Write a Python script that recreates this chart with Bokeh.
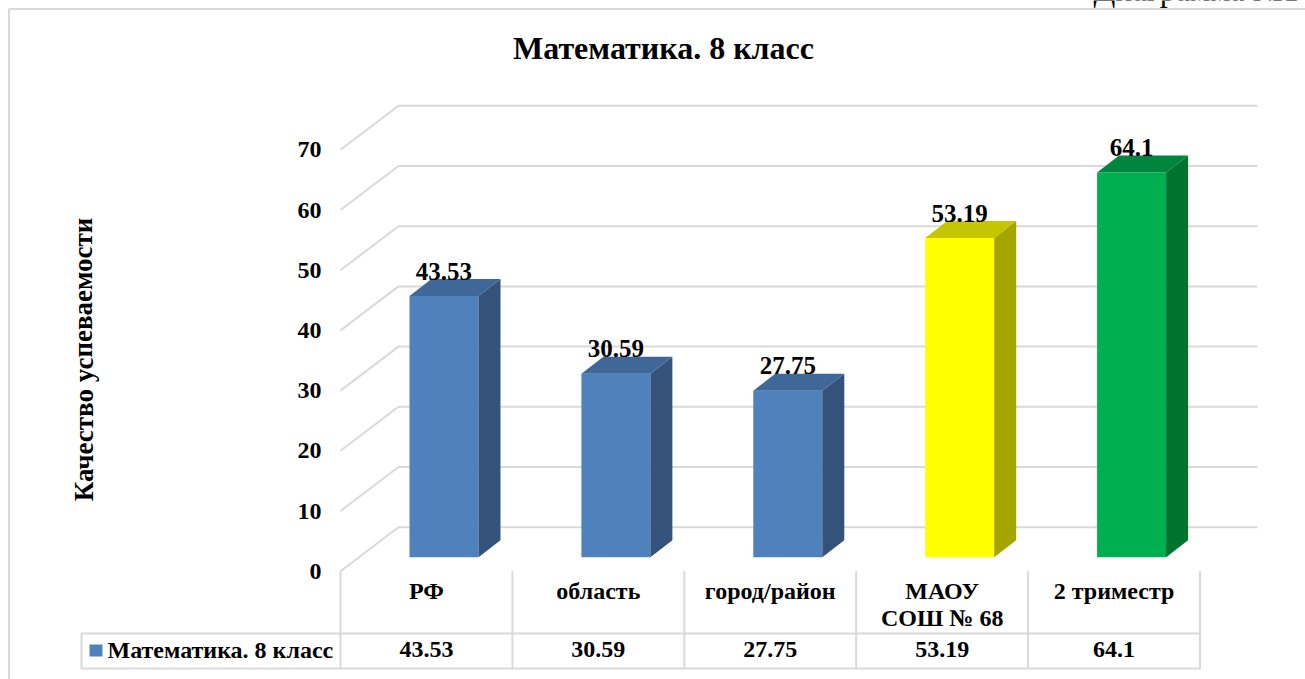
from bokeh.plotting import figure
from bokeh.embed import file_html
from bokeh.resources import INLINE
from bokeh.core.properties import value

categories = ["РФ", "область", "город/район", "МАОУ\nСОШ № 68", "2 триместр"]
series_name = "Математика. 8 класс"
values = [43.53, 30.59, 27.75, 53.19, 64.1]
value_labels = ["43.53", "30.59", "27.75", "53.19", "64.1"]
ticks = [0, 10, 20, 30, 40, 50, 60, 70]
title = "Математика. 8 класс"
y_title = "Качество успеваемости"
caption = "Диаграмма №14"
front = ["#4F81BD", "#4F81BD", "#4F81BD", "#FFFF00", "#00B050"]
top_c = ["#3F6797", "#3F6797", "#3F6797", "#C6C600", "#00853C"]
side_c = ["#34527A", "#34527A", "#34527A", "#A5A500", "#00732F"]

W, H = 1305, 679
PX = 171.9          # pixels per category
PY = 6.0            # pixels per value unit
X0, Y0 = 340, 556.7 # pixel of category 0 edge / value 0 on bars' front plane
GRID = "#D9D9D9"
FONT = value("Liberation Serif")
WALL = 1.0033       # wall gridline spacing relative to the bars' value scale
BAR_C = 0.602       # bar centre inside its category (the 3D depth pushes bars right)

p = figure(width=W, height=H, output_backend="svg", toolbar_location=None,
           x_range=(-X0 / PX, (W - X0) / PX), y_range=((Y0 - H) / PY, Y0 / PY),
           min_border=0, outline_line_color=None, background_fill_color="white",
           x_axis_type="linear", y_axis_type="linear")
p.axis.visible = False
p.grid.visible = False

def dx(px):
    return px / PX

def dy(px):
    return -px / PY

# outer border
xl, xr = dx(8.5 - X0), dx(W - X0)
yt, yb = dy(8.5 - Y0), dy(H - Y0)
p.line([xl, xl, xr], [yb, yt, yt], line_color=GRID, line_width=2)

# wall: side and back gridlines
front_off, back_off = dy(14), dy(-30)
wall_dx, end_dx = dx(58), dx(1257 - X0)
for t in ticks:
    p.line([0, wall_dx, end_dx],
           [t * WALL + front_off, t * WALL + back_off, t * WALL + back_off],
           line_color=GRID, line_width=2)

# bars
bw = dx(69)
depth_x, depth_y = dx(22), dy(-17)
for i, v in enumerate(values):
    x0 = i + BAR_C - bw / 2
    x1 = x0 + bw
    p.patch([x0, x1, x1, x0], [0, 0, v, v], fill_color=front[i], line_color=None)
    p.patch([x1, x1 + depth_x, x1 + depth_x, x1], [0, depth_y, v + depth_y, v],
            fill_color=side_c[i], line_color=None)
    p.patch([x0, x1, x1 + depth_x, x0 + depth_x], [v, v, v + depth_y, v + depth_y],
            fill_color=top_c[i], line_color=None)

# table
n = len(values)
tbl_top, tbl_bot = dy(633 - Y0), dy(668 - Y0)
tbl_left = dx(81 - X0)
for i in range(n + 1):
    p.line([i, i], [front_off, tbl_bot], line_color=GRID, line_width=2)
p.line([tbl_left, n, n, tbl_left, tbl_left],
       [tbl_top, tbl_top, tbl_bot, tbl_bot, tbl_top], line_color=GRID, line_width=2)

# swatch
sx0, sx1 = dx(89 - X0), dx(102 - X0)
sy0, sy1 = dy(644 - Y0), dy(656 - Y0)
p.patch([sx0, sx1, sx1, sx0], [sy0, sy0, sy1, sy1], fill_color=front[0], line_color=None)

def txt(x, y, s, size, **kw):
    kw.setdefault("text_align", "center")
    kw.setdefault("text_baseline", "middle")
    p.text([x], [y], text=[s], text_font=FONT, text_font_style="bold",
           text_font_size=f"{size}px", text_color="black", **kw)

txt(dx(663 - X0), dy(47 - Y0), title, 32)
txt(dx(83 - X0), dy(359 - Y0), y_title, 27, angle=1.5708)
for t in ticks:
    txt(dx(321 - X0), t * WALL + front_off, str(t), 24, text_align="right")
for i, c in enumerate(categories):
    lines = c.split("\n")
    for j, l in enumerate(lines):
        txt(i + 0.5, dy(590 + 27 * j - Y0), l, 24)
    txt(i + 0.5, dy(649 - Y0), value_labels[i], 24)
    txt(i + BAR_C, values[i] + dy(-25), value_labels[i], 25)
txt(dx(107 - X0), dy(649 - Y0), series_name, 24, text_align="left")
p.text([dx(1093 - X0)], [dy(-11 - Y0)], text=[caption], text_font=value("Liberation Serif"),
       text_font_size="32px", text_color="black", text_align="left",
       text_baseline="alphabetic")

open("out.html", "w").write(file_html(p, INLINE))
